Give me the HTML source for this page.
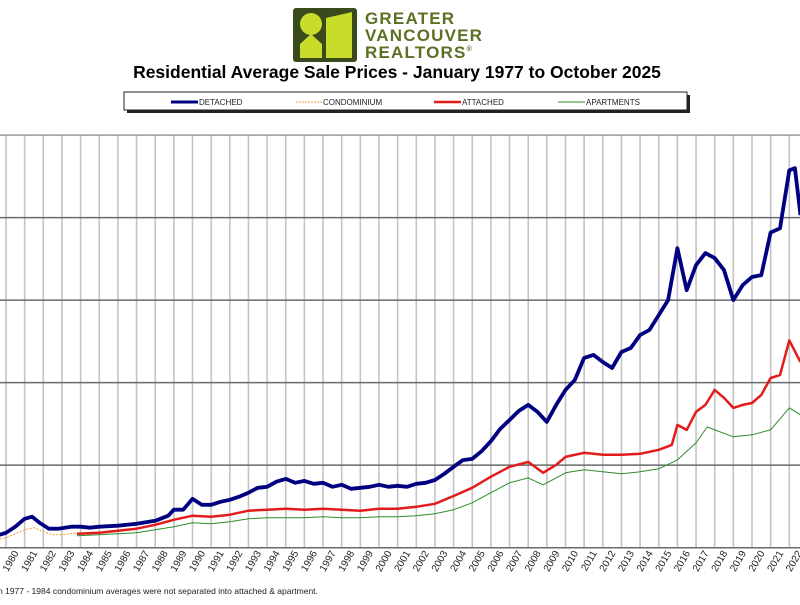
<!DOCTYPE html>
<html><head><meta charset="utf-8"><style>
body{margin:0;background:#fff;width:800px;height:600px;overflow:hidden;font-family:"Liberation Sans",sans-serif}
</style></head><body>
<svg width="800" height="600" xmlns="http://www.w3.org/2000/svg">
<g>
<rect x="293" y="8" width="64" height="54" rx="3" fill="#3b4a1c"/>
<circle cx="311" cy="24" r="11" fill="#c8dc2a"/>
<path d="M300 58 L300 44 L311 34 L322 44 L322 58 Z" fill="#c8dc2a"/>
<path d="M326 18 L352 12 L352 58 L326 58 Z" fill="#c8dc2a"/>
<text x="365" y="24" font-size="17" font-weight="bold" letter-spacing="1.2" fill="#5c6f22">GREATER</text>
<text x="365" y="41" font-size="17" font-weight="bold" letter-spacing="1.2" fill="#5c6f22">VANCOUVER</text>
<text x="365" y="58" font-size="17" font-weight="bold" letter-spacing="1.2" fill="#5c6f22">REALTORS<tspan font-size="7" dy="-7">®</tspan></text>
</g>
<text x="397" y="78" font-size="17.5" font-weight="bold" text-anchor="middle" fill="#000">Residential Average Sale Prices  -  January 1977 to October 2025</text>
<text x="-3" y="114" font-size="10" fill="#333">)</text>
<g>
<rect x="127" y="95" width="563" height="18" fill="#222"/>
<rect x="124" y="92" width="563" height="18" fill="#fff" stroke="#222" stroke-width="1"/>
<line x1="171" y1="102" x2="198" y2="102" stroke="#000080" stroke-width="3"/>
<text x="199" y="105" font-size="8" fill="#222">DETACHED</text>
<line x1="296" y1="102" x2="322" y2="102" stroke="#f0a030" stroke-width="1" stroke-dasharray="2,1"/>
<text x="323" y="105" font-size="8" fill="#222">CONDOMINIUM</text>
<line x1="434" y1="102" x2="461" y2="102" stroke="#e31b1b" stroke-width="2.5"/>
<text x="462" y="105" font-size="8" fill="#222">ATTACHED</text>
<line x1="558" y1="102" x2="585" y2="102" stroke="#2e8b2e" stroke-width="1"/>
<text x="586" y="105" font-size="8" fill="#222">APARTMENTS</text>
</g>
<g id="grid"></g>
<g id="series"></g>
<g id="xlabels"></g>
<text x="-2" y="594" font-size="8.5" fill="#222">n 1977 - 1984 condominium averages were not separated into attached &amp; apartment.</text>
</svg>
<script>
const years=[];for(let y=1977;y<=2025;y++)years.push(y);
const yTicks=[0,500,1000,1500,2000,2500];
const detT=[1979.5,1980,1980.5,1981,1981.4,1981.8,1982.3,1982.8,1983.5,1984,1984.5,1985,1986,1987,1988,1988.7,1989,1989.5,1990,1990.5,1991,1991.5,1992,1992.5,1993,1993.5,1994,1994.5,1995,1995.5,1996,1996.5,1997,1997.5,1998,1998.5,1999,1999.5,2000,2000.5,2001,2001.5,2002,2002.5,2003,2003.5,2004,2004.5,2005,2005.5,2006,2006.5,2007,2007.5,2008,2008.5,2009,2009.5,2010,2010.5,2011,2011.5,2012,2012.5,2013,2013.5,2014,2014.5,2015,2015.5,2016,2016.5,2017,2017.5,2018,2018.5,2019,2019.5,2020,2020.5,2021,2021.5,2022,2022.3,2022.6];
const detV=[73,90,127,175,188,151,115,115,127,127,121,127,133,145,163,194,230,230,296,260,260,278,290,309,333,363,369,400,417,393,405,387,393,369,381,357,363,369,381,369,375,369,387,393,410,448,490,531,538,585,645,720,774,829,865,823,762,865,956,1016,1150,1168,1125,1089,1186,1210,1289,1319,1410,1500,1815,1560,1712,1785,1755,1682,1500,1591,1640,1652,1910,1935,2287,2300,2015];
const attT=[1983.8,1985,1986,1987,1988,1989,1990,1991,1992,1993,1994,1995,1996,1997,1998,1999,2000,2001,2002,2003,2004,2005,2006,2007,2008,2008.8,2009.5,2010,2011,2012,2013,2014,2015,2015.7,2016,2016.5,2017,2017.5,2018,2018.5,2019,2019.5,2020,2020.5,2021,2021.5,2022,2022.6];
const attV=[85,90,103,115,139,169,194,188,200,224,230,236,230,236,230,224,236,236,248,266,313,363,430,490,520,454,502,550,575,563,563,569,593,623,744,714,823,865,956,908,847,865,877,926,1028,1046,1256,1125];
const aptT=[1983.8,1985,1986,1987,1988,1989,1990,1991,1992,1993,1994,1995,1996,1997,1998,1999,2000,2001,2002,2003,2004,2005,2006,2007,2008,2008.8,2009.5,2010,2011,2012,2013,2014,2015,2016,2017,2017.6,2018,2019,2020,2021,2022,2022.6];
const aptV=[73,79,85,90,109,127,151,145,157,175,182,182,182,188,182,182,188,188,194,206,230,272,333,393,423,381,423,454,472,460,448,460,478,532,635,732,714,672,684,714,847,805];
const conT=[1979.5,1980,1980.5,1981,1981.5,1982,1982.5,1983,1983.8];
const conV=[48,60,85,109,121,97,79,79,90];
const X=t=>6+(t-1980)*18.65;
const Y=v=>547.7-v*82.52/500;
const NS="http://www.w3.org/2000/svg";
const grid=document.getElementById('grid'),ser=document.getElementById('series'),xl=document.getElementById('xlabels');
function mk(tag,attrs,parent){const e=document.createElementNS(NS,tag);for(const k in attrs)e.setAttribute(k,attrs[k]);parent.appendChild(e);return e;}
years.forEach(yr=>{const x=X(yr);
 const l=mk('line',{x1:x,x2:x,y1:135,y2:548,stroke:'#c4c4c4','stroke-width':1.6},grid);
 
 
 const ax=x+13;
 const t=mk('text',{x:ax,y:553,'font-size':10,fill:'#222','text-anchor':'end',transform:'rotate(-60 '+ax+' 553)'},xl);
 t.textContent=yr;
 
 
});
yTicks.forEach(v=>{const y=Y(v);
 const l=mk('line',{x1:0,x2:800,y1:y,y2:y,stroke:v==2500?'#999':'#6a6a6a','stroke-width':1.5},grid);
 
 
});
function line(T,V,attrs,name){const d=T.map((t,i)=>(i?'L':'M')+X(t).toFixed(1)+' '+Y(V[i]).toFixed(1)).join(' ');
 const p=mk('path',Object.assign({d:d,fill:'none','stroke-linejoin':'round'},attrs),ser);
 
 }
line(conT,conV,{stroke:'#f0a030','stroke-width':1,'stroke-dasharray':'2,1.5'},'condominium-line');
line(aptT,aptV,{stroke:'#2e8b2e','stroke-width':1},'apartments-line');
line(attT,attV,{stroke:'#e31b1b','stroke-width':2.5},'attached-line');
line(detT,detV,{stroke:'#000080','stroke-width':3.8},'detached-line');
</script>
</body></html>
